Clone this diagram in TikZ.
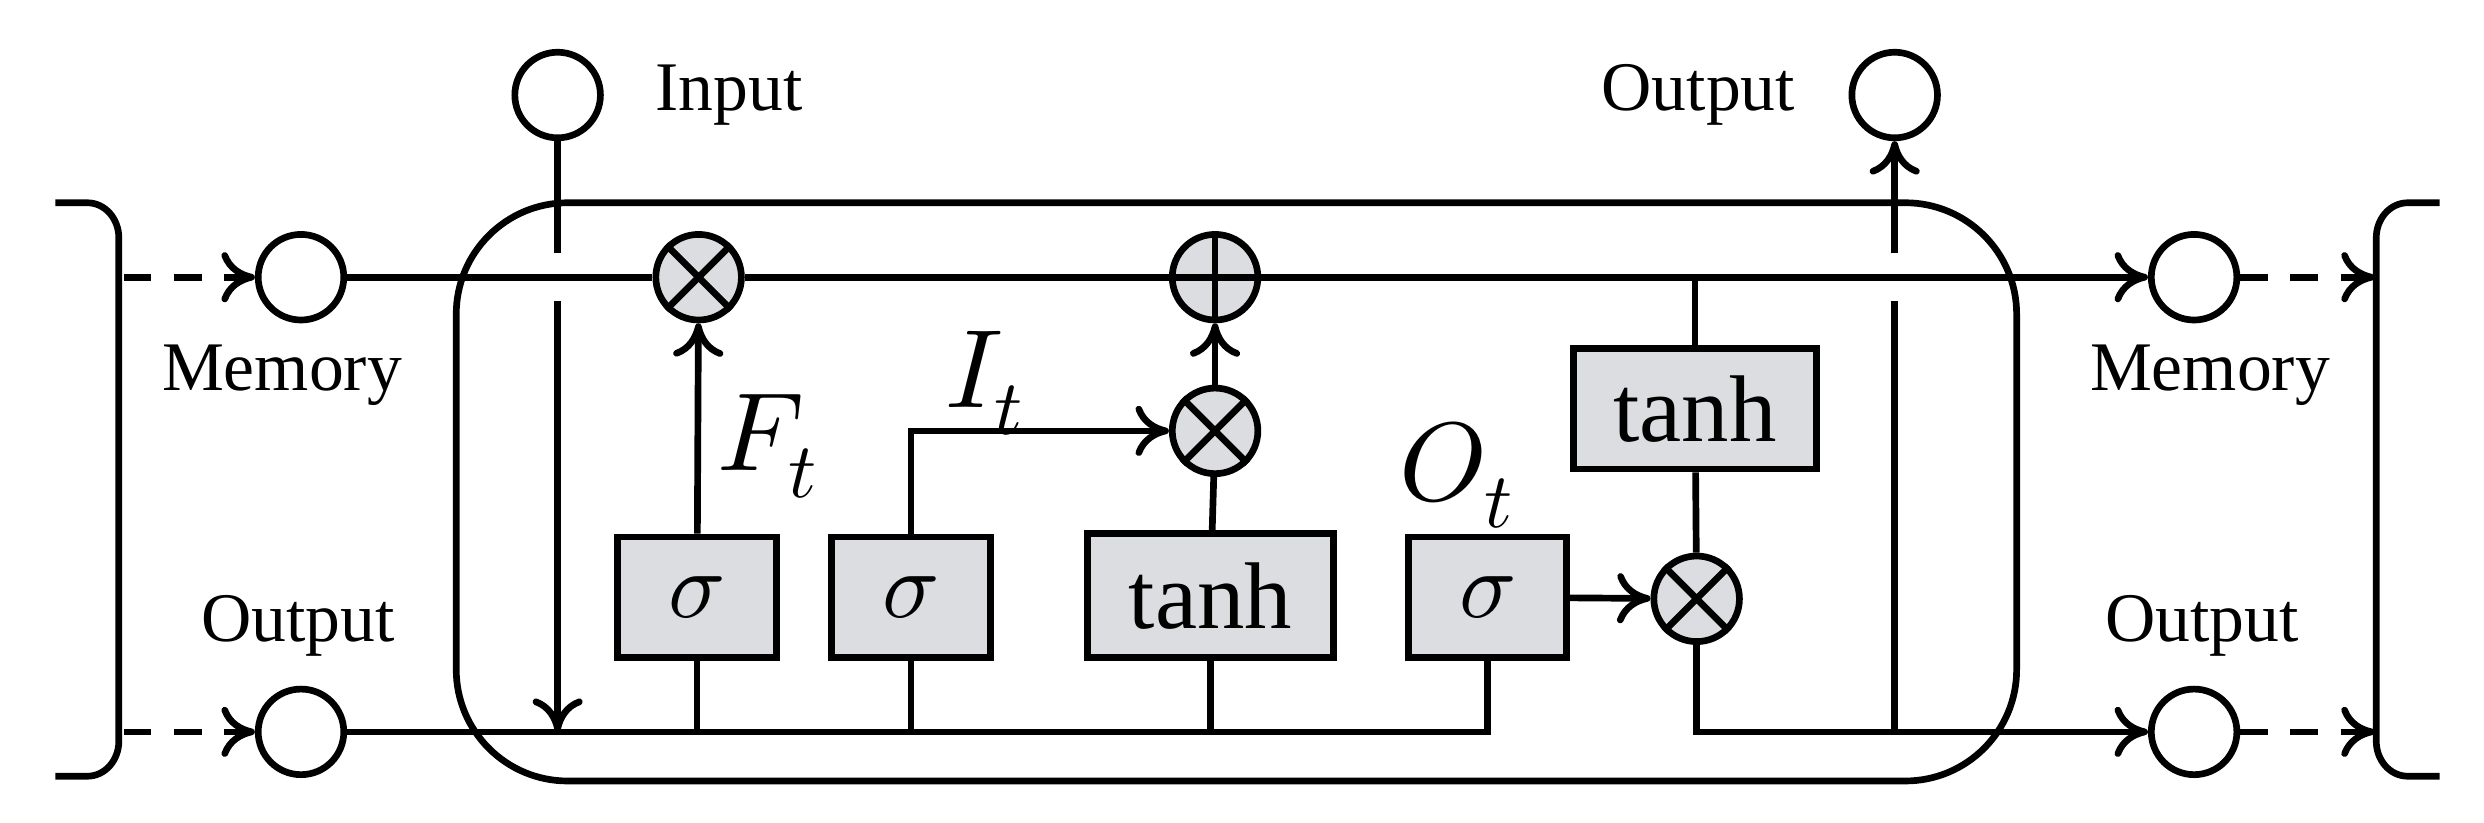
\documentclass[tikz,border=0pt]{standalone}
\usepackage{fontspec}
\setmainfont{Liberation Serif}
\usepackage{unicode-math}
\setmathfont{Latin Modern Math}
\usetikzlibrary{arrows.meta}
\definecolor{gf}{HTML}{DCDDE0}
\begin{document}
\begin{tikzpicture}[x=0.01cm,y=-0.01cm,line width=1.2pt,
 io/.style={circle,draw,minimum size=0.54cm,inner sep=0pt},
 op/.style={circle,draw,fill=gf,minimum size=0.54cm,inner sep=0pt},
 bx/.style={draw,fill=gf,inner sep=0pt,font=\fontsize{17}{17}\selectfont},
 lb/.style={font=\fontsize{12.5}{14}\selectfont},
 ar/.style={-{To[length=6pt,width=9pt]}},
 da/.style={ar,dashed,dash pattern=on 5pt off 4pt}]
\useasboundingbox (0,0) rectangle (1568,519);
% brackets
\draw (35,128) -- (55,128) to[out=0,in=90] (75,150) -- (75,468) to[out=-90,in=0] (55,490) -- (35,490);
\draw (1540,128) -- (1520,128) to[out=180,in=90] (1500,150) -- (1500,468) to[out=-90,in=180] (1520,490) -- (1540,490);
\draw[rounded corners=20] (288,128) rectangle (1273,493);
% io circles
\node[io] (mL) at (190,175) {};
\node[io] (oL) at (190,462) {};
\node[io] (in) at (352,60) {};
\node[io] (oT) at (1196,60) {};
\node[io] (mR) at (1385,175) {};
\node[io] (oR) at (1385,462) {};
\node[lb] at (178,237) {Memory};
\node[lb] at (188,395) {Output};
\node[lb] at (1395,237) {Memory};
\node[lb] at (1390,395) {Output};
\node[lb,anchor=west] at (400,60) {Input};
\node[lb,anchor=east] at (1147,60) {Output};
% ops
\node[op] (x1) at (441,175) {};
\node[op] (p1) at (767,175) {};
\node[op] (x2) at (767,272) {};
\node[op] (x3) at (1071,378) {};
\foreach \n in {x1,x2,x3}{\draw (\n.45)--(\n.225) (\n.135)--(\n.315);}
\draw (p1.north)--(p1.south) (p1.west)--(p1.east);
% boxes
\node[bx,minimum width=1cm,minimum height=0.76cm] (s1) at (440,377) {$\boldsymbol{\sigma}$};
\node[bx,minimum width=1cm,minimum height=0.76cm] (s2) at (575,377) {$\boldsymbol{\sigma}$};
\node[bx,minimum width=1.55cm,minimum height=0.78cm] (t1) at (764,376) {tanh};
\node[bx,minimum width=1cm,minimum height=0.76cm] (s3) at (939,377) {$\boldsymbol{\sigma}$};
\node[bx,minimum width=1.53cm,minimum height=0.76cm] (t2) at (1070,258) {tanh};
% labels
\node[font=\fontsize{20}{20}\selectfont] at (485,282) {$F_t$};
\node[font=\fontsize{20}{20}\selectfont] at (622,242) {$I_t$};
\node[font=\fontsize{20}{20}\selectfont] at (920,300) {$O_t$};
% dashed
\coordinate (lb1) at (78,175); \coordinate (lb2) at (78,462);
\coordinate (rb1) at (1499,175); \coordinate (rb2) at (1499,462);
\draw[da] (lb1) -- (mL); \draw[da] (lb2) -- (oL);
\draw[da] (mR) -- (rb1); \draw[da] (oR) -- (rb2);
% memory line
\draw (mL) -- (x1); \draw (x1) -- (p1); \draw[ar] (p1) -- (mR);
% input line with gap
\coordinate (ig1) at (352,160); \coordinate (ig2) at (352,190); \coordinate (ib) at (352,462);
\draw (in) -- (ig1); \draw[ar] (ig2) -- (ib);
% bottom line
\coordinate (b4) at (939,462);
\draw (oL) -- (b4) -- (s3.south);
\draw (s1.south) -- (s1.south |- oL); \draw (s2.south) -- (s2.south |- oL); \draw (t1.south) -- (t1.south |- oL);
\draw[ar] (s1) -- (x1);
\draw[ar] (s2.north) |- (x2);
\draw (t1) -- (x2); \draw[ar] (x2) -- (p1);
\draw[ar] (s3) -- (x3);
\draw (t2.north) -- (t2.north |- mL);
\draw (t2) -- (x3);
\draw[ar] (x3.south) |- (oR);
% top output with gap
\coordinate (og1) at (1196,160); \coordinate (og2) at (1196,190); \coordinate (ob) at (1196,462);
\draw (ob) -- (og2); \draw[ar] (og1) -- (oT);
\end{tikzpicture}
\end{document}
